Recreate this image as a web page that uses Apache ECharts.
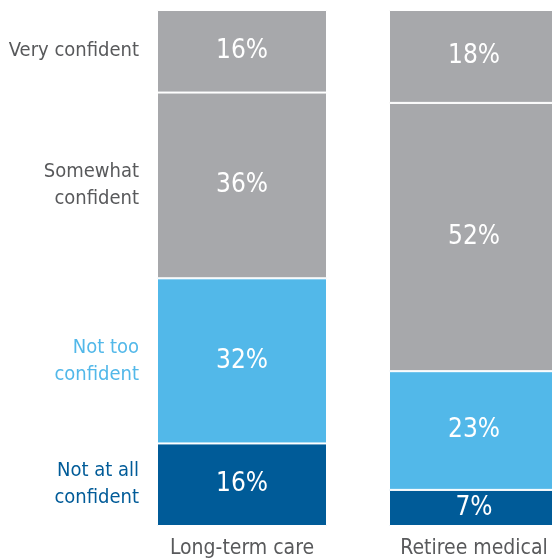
<!DOCTYPE html>
<html>
<head>
<meta charset="utf-8">
<script src="https://cdn.jsdelivr.net/npm/echarts@6/dist/echarts.min.js"></script>
<style>
html,body{margin:0;padding:0;background:#fff;overflow:hidden;width:552px;height:560px;}
#chart{width:600px;height:560px;}
</style>
</head>
<body>
<div id="chart"></div>
<script>
var categories = ['Long-term care', 'Retiree medical'];
var levelNames = ['Not at all\nconfident', 'Not too\nconfident', 'Somewhat\nconfident', 'Very confident'];
var notAtAllConfident = [16, 7];
var notTooConfident = [32, 23];
var somewhatConfident = [36, 52];
var veryConfident = [16, 18];

var seriesValues = [notAtAllConfident, notTooConfident, somewhatConfident, veryConfident];
var colors = ['#005b98', '#52b8e9', '#a7a8ab', '#a7a8ab'];
var labelColors = ['#005b98', '#52b8e9', '#58595b', '#58595b'];
var FONT = "'DejaVu Sans Condensed', 'Liberation Sans Narrow', sans-serif";
var BAR_W = 170;

var series = seriesValues.map(function (vals, i) {
  return {
    type: 'bar',
    name: levelNames[i],
    stack: 'total',
    barWidth: BAR_W,
    data: vals,
    itemStyle: { color: colors[i], borderColor: '#ffffff', borderWidth: 1 },
    label: {
      show: true,
      position: 'inside',
      formatter: '{c}%',
      color: '#ffffff',
      fontFamily: FONT,
      fontSize: 26
    },
    emphasis: { disabled: true }
  };
});

// Left-side level labels, placed at the middle of each segment of the first bar
var cum = 0;
var sideData = seriesValues.map(function (vals, i) {
  var mid = cum + vals[0] / 2;
  cum += vals[0];
  return {
    value: [0, mid],
    label: { formatter: levelNames[i], color: labelColors[i] }
  };
});
series.push({
  type: 'scatter',
  symbolSize: 0,
  data: sideData,
  silent: true,
  itemStyle: { opacity: 1 },
  label: {
    show: true,
    position: 'left',
    distance: BAR_W / 2 + 18,
    fontFamily: FONT,
    fontSize: 20,
    lineHeight: 27,
    align: 'right',
    opacity: 1
  }
});

var chart = echarts.init(document.getElementById('chart'));
chart.setOption({
  animation: false,
  backgroundColor: '#ffffff',
  grid: { left: 126, width: 464, top: 10, bottom: 34 },
  xAxis: {
    type: 'category',
    data: categories,
    axisLine: { show: false },
    axisTick: { show: false },
    axisLabel: { color: '#58595b', fontFamily: FONT, fontSize: 21, margin: 12, interval: 0 }
  },
  yAxis: {
    type: 'value',
    min: 0,
    max: 100,
    show: false,
    splitLine: { show: false }
  },
  series: series
});
</script>
</body>
</html>
